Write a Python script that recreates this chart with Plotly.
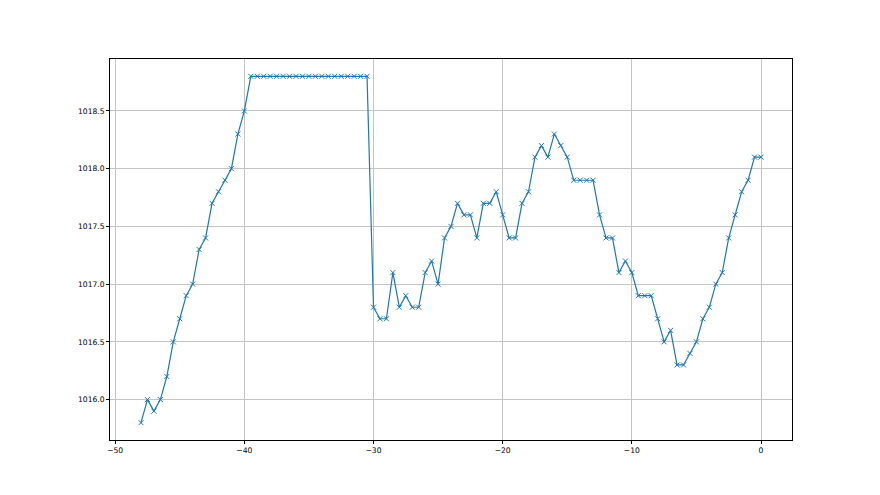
import plotly.graph_objects as go

x_vals = [-48.0, -47.5, -47.0, -46.5, -46.0, -45.5, -45.0, -44.5, -44.0, -43.5,
          -43.0, -42.5, -42.0, -41.5, -41.0, -40.5, -40.0, -39.5, -39.0, -38.5,
          -38.0, -37.5, -37.0, -36.5, -36.0, -35.5, -35.0, -34.5, -34.0, -33.5,
          -33.0, -32.5, -32.0, -31.5, -31.0, -30.5, -30.0, -29.5, -29.0, -28.5,
          -28.0, -27.5, -27.0, -26.5, -26.0, -25.5, -25.0, -24.5, -24.0, -23.5,
          -23.0, -22.5, -22.0, -21.5, -21.0, -20.5, -20.0, -19.5, -19.0, -18.5,
          -18.0, -17.5, -17.0, -16.5, -16.0, -15.5, -15.0, -14.5, -14.0, -13.5,
          -13.0, -12.5, -12.0, -11.5, -11.0, -10.5, -10.0, -9.5, -9.0, -8.5,
          -8.0, -7.5, -7.0, -6.5, -6.0, -5.5, -5.0, -4.5, -4.0, -3.5,
          -3.0, -2.5, -2.0, -1.5, -1.0, -0.5, 0.0]

pressure = [1015.8, 1016.0, 1015.9, 1016.0, 1016.2, 1016.5, 1016.7, 1016.9, 1017.0, 1017.3,
            1017.4, 1017.7, 1017.8, 1017.9, 1018.0, 1018.3, 1018.5, 1018.8, 1018.8, 1018.8,
            1018.8, 1018.8, 1018.8, 1018.8, 1018.8, 1018.8, 1018.8, 1018.8, 1018.8, 1018.8,
            1018.8, 1018.8, 1018.8, 1018.8, 1018.8, 1018.8, 1016.8, 1016.7, 1016.7, 1017.1,
            1016.8, 1016.9, 1016.8, 1016.8, 1017.1, 1017.2, 1017.0, 1017.4, 1017.5, 1017.7,
            1017.6, 1017.6, 1017.4, 1017.7, 1017.7, 1017.8, 1017.6, 1017.4, 1017.4, 1017.7,
            1017.8, 1018.1, 1018.2, 1018.1, 1018.3, 1018.2, 1018.1, 1017.9, 1017.9, 1017.9,
            1017.9, 1017.6, 1017.4, 1017.4, 1017.1, 1017.2, 1017.1, 1016.9, 1016.9, 1016.9,
            1016.7, 1016.5, 1016.6, 1016.3, 1016.3, 1016.4, 1016.5, 1016.7, 1016.8, 1017.0,
            1017.1, 1017.4, 1017.6, 1017.8, 1017.9, 1018.1, 1018.1]

x_ticks = [-50, -40, -30, -20, -10, 0]
x_tick_labels = ["\u221250", "\u221240", "\u221230", "\u221220", "\u221210", "0"]
y_ticks = [1016.0, 1016.5, 1017.0, 1017.5, 1018.0, 1018.5]
y_tick_labels = ["1016.0", "1016.5", "1017.0", "1017.5", "1018.0", "1018.5"]

fig = go.Figure()
fig.add_trace(go.Scatter(
    x=x_vals, y=pressure, mode="lines+markers",
    line=dict(color="#1f77b4", width=1.2),
    marker=dict(symbol="x-thin", size=5, line=dict(color="#1f77b4", width=1)),
    showlegend=False,
))

axis_common = dict(
    showline=True, linecolor="#000000", linewidth=0.8, mirror=True,
    showgrid=True, gridcolor="#c4c4c4", gridwidth=0.7,
    ticks="outside", ticklen=3, tickwidth=0.8, tickcolor="#000000",
    zeroline=False,
    tickfont=dict(family="DejaVu Sans", size=7.6, color="#000000"),
)

fig.update_layout(
    width=872, height=487,
    margin=dict(l=102, r=88, t=51, b=55),
    paper_bgcolor="white", plot_bgcolor="white",
    xaxis=dict(range=[-50.4, 2.4], tickvals=x_ticks, ticktext=x_tick_labels, **axis_common),
    yaxis=dict(range=[1015.65, 1018.95], tickvals=y_ticks, ticktext=y_tick_labels, **axis_common),
)

fig.write_html("out.html")
